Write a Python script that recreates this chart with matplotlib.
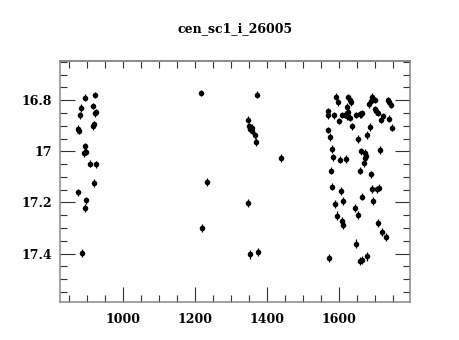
import numpy as np
import matplotlib
matplotlib.use("Agg")
import matplotlib.pyplot as plt
from matplotlib.ticker import MultipleLocator, FixedLocator, FuncFormatter

plt.rcParams['font.family'] = ['DejaVu Serif']

title = "cen_sc1_i_26005"

# first season
t1 = [894.6, 921.5, 884.3, 917.6, 879.9, 921.5, 924.3, 917.6, 919.6, 874.3,
      877.9, 893.8, 891.8, 897.4, 908.5, 925.1, 920.4, 876.0, 898.2, 895.4,
      887.1]
m1 = [16.791, 16.780, 16.832, 16.823, 16.860, 16.852, 16.846, 16.901, 16.894, 16.911,
      16.920, 16.980, 17.006, 17.002, 17.048, 17.050, 17.124, 17.160, 17.191, 17.222,
      17.398]
e1 = [0.014, 0.013, 0.015, 0.013, 0.013, 0.014, 0.013, 0.014, 0.013, 0.013,
      0.013, 0.014, 0.015, 0.014, 0.014, 0.014, 0.014, 0.013, 0.014, 0.015,
      0.017]

# second season
t2 = [1217.2, 1233.9, 1218.3, 1346.7, 1350.4, 1352.3, 1357.0, 1358.7, 1366.2, 1369.8,
      1372.5, 1347.6, 1352.3, 1375.3, 1438.3]
m2 = [16.771, 17.120, 17.300, 16.877, 16.902, 16.911, 16.907, 16.920, 16.937, 16.963,
      16.778, 17.202, 17.402, 17.394, 17.026]
e2 = [0.012, 0.014, 0.014, 0.014, 0.013, 0.013, 0.013, 0.013, 0.013, 0.015,
      0.012, 0.014, 0.018, 0.017, 0.014]

# third season
t3 = [1591.7, 1595.6, 1624.2, 1628.9, 1633.3, 1689.9, 1688.0, 1699.9, 1681.6, 1734.3,
      1738.7, 1743.4, 1569.5, 1569.5, 1585.3, 1600.0, 1606.7, 1615.0, 1620.5, 1622.2,
      1624.2, 1629.7, 1635.2, 1646.3, 1656.6, 1661.0, 1663.8, 1698.2, 1702.7, 1708.2,
      1715.7, 1722.1, 1737.9, 1746.2, 1569.5, 1574.2, 1650.5, 1676.9, 1685.2, 1578.4,
      1583.4, 1600.6, 1617.2, 1576.4, 1659.9, 1671.3, 1674.1, 1672.1, 1667.1, 1657.4,
      1686.6, 1713.7, 1580.6, 1604.7, 1611.1, 1588.1, 1661.6, 1691.3, 1703.2, 1708.8,
      1694.1, 1593.6, 1608.1, 1609.4, 1644.1, 1652.7, 1706.0, 1717.9, 1729.0, 1646.9,
      1572.3, 1656.1, 1662.2, 1677.7]
m3 = [16.787, 16.808, 16.789, 16.798, 16.808, 16.787, 16.803, 16.800, 16.817, 16.800,
      16.808, 16.818, 16.844, 16.859, 16.860, 16.882, 16.858, 16.857, 16.863, 16.826,
      16.846, 16.869, 16.903, 16.858, 16.856, 16.855, 16.852, 16.836, 16.844, 16.850,
      16.878, 16.863, 16.872, 16.907, 16.917, 16.944, 16.953, 16.936, 16.905, 16.991,
      17.023, 17.033, 17.030, 17.076, 17.000, 17.005, 17.017, 17.028, 17.047, 17.076,
      17.090, 16.995, 17.138, 17.156, 17.195, 17.205, 17.177, 17.148, 17.149, 17.142,
      17.195, 17.251, 17.272, 17.287, 17.222, 17.248, 17.279, 17.315, 17.335, 17.361,
      17.417, 17.429, 17.425, 17.410]
e3 = [0.013, 0.013, 0.013, 0.013, 0.013, 0.013, 0.013, 0.013, 0.013, 0.013,
      0.013, 0.013, 0.013, 0.013, 0.013, 0.013, 0.013, 0.013, 0.013, 0.013,
      0.013, 0.013, 0.014, 0.013, 0.013, 0.013, 0.013, 0.013, 0.013, 0.013,
      0.013, 0.013, 0.013, 0.014, 0.013, 0.014, 0.015, 0.014, 0.014, 0.014,
      0.014, 0.014, 0.014, 0.014, 0.014, 0.014, 0.014, 0.014, 0.014, 0.014,
      0.014, 0.015, 0.015, 0.015, 0.015, 0.015, 0.015, 0.015, 0.015, 0.015,
      0.015, 0.016, 0.016, 0.016, 0.016, 0.016, 0.016, 0.016, 0.016, 0.017,
      0.016, 0.017, 0.017, 0.018]

t = np.array(t1 + t2 + t3)
m = np.array(m1 + m2 + m3)
e = np.array(e1 + e2 + e3)

fig = plt.figure(figsize=(4.6, 3.4), dpi=100)
ax = fig.add_axes([0.1304, 0.1118, 0.7609, 0.7088])

ax.errorbar(t, m, yerr=e, fmt='o', color='black', ms=4.0, mew=0,
            elinewidth=0.9, capsize=2.2, capthick=0.9)

ax.set_xlim(825, 1796)
ax.set_ylim(17.589, 16.647)

ax.xaxis.set_major_locator(FixedLocator([1000, 1200, 1400, 1600]))
ax.xaxis.set_minor_locator(MultipleLocator(50))
ax.yaxis.set_major_locator(FixedLocator([16.8, 17.0, 17.2, 17.4]))
ax.yaxis.set_minor_locator(MultipleLocator(0.05))
ax.yaxis.set_major_formatter(FuncFormatter(lambda v, p: f"{v:g}"))

for s in ax.spines.values():
    s.set_color('#888888')
    s.set_linewidth(1.1)

ax.tick_params(which='both', direction='in', colors='#333333', labelcolor='black',
               labelsize=9, top=False, right=True, width=0.8)
ax.tick_params(which='major', length=10.8)
ax.tick_params(which='minor', length=5)
ax.tick_params(axis='x', which='major', pad=8)
ax.tick_params(axis='y', which='major', pad=5.5)
for lbl in ax.get_xticklabels() + ax.get_yticklabels():
    lbl.set_fontweight('semibold')

# top edge: short ticks only
sec = ax.secondary_xaxis('top')
sec.xaxis.set_major_locator(MultipleLocator(50))
sec.tick_params(direction='in', length=5, width=0.8, colors='#333333', labeltop=False)
sec.spines['top'].set_color('#888888')
sec.spines['top'].set_linewidth(1.1)

ax.set_title(title, fontsize=9, pad=21, fontweight='semibold')

fig.savefig("out.png", dpi=100)
